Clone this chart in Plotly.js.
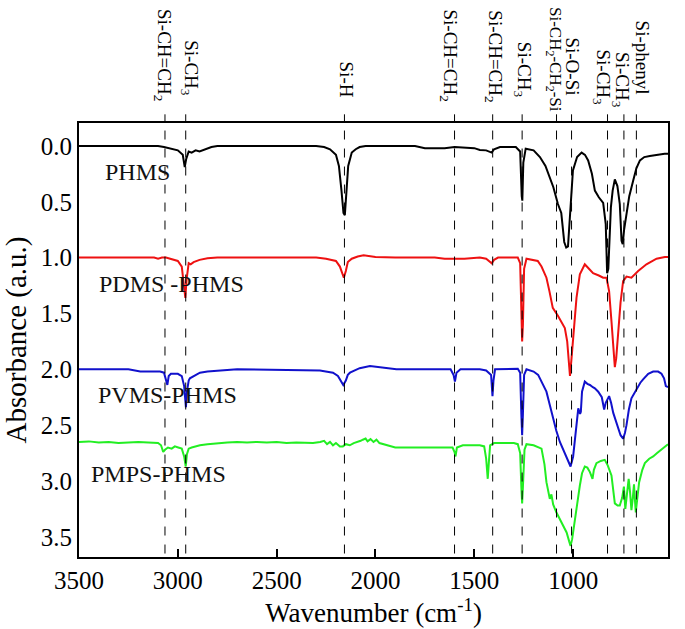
<!DOCTYPE html>
<html>
<head>
<meta charset="utf-8">
<script src="https://cdn.plot.ly/plotly-3.0.1.min.js"></script>
<style>html,body{margin:0;padding:0;background:#fff;}#chart{width:685px;height:629px;}</style>
</head>
<body>
<div id="chart"></div>
<script>
// ---- data ----
const phmsX = [3500,3100,3070,3040,3000,2975,2965,2958,2945,2930,2910,2890,2860,2830,2800,2300,2260,2230,2200,2185,2172,2162,2155,2148,2138,2120,2100,2080,2050,1800,1750,1650,1600,1500,1472,1440,1412,1400,1370,1290,1268,1260,1257,1252,1240,1200,1168,1140,1118,1100,1077,1060,1045,1035,1026,1016,1001,980,957,940,924,905,890,870,848,835,828,822,815,809,800,789,776,764,755,749,742,736,716,696,680,662,640,612,570,537,520];
const phmsY = [0,0,0.01,0.02,0.04,0.08,0.19,0.12,0.05,0.06,0.04,0.05,0.03,0.01,0,0,0.01,0.03,0.08,0.18,0.40,0.60,0.62,0.45,0.18,0.06,0.03,0.01,0,0,0.02,0.02,0.01,0.02,0.036,0.04,0.06,0.03,0.01,0.01,0.05,0.45,0.49,0.15,0.025,0.04,0.10,0.18,0.28,0.37,0.52,0.60,0.86,0.91,0.90,0.64,0.22,0.10,0.06,0.08,0.13,0.25,0.40,0.46,0.51,0.70,1.14,1.10,0.70,0.55,0.40,0.30,0.36,0.52,0.85,0.88,0.75,0.67,0.45,0.31,0.20,0.13,0.10,0.09,0.075,0.07,0.07];

const pdmsX = [3500,3120,3100,3080,3060,3040,3000,2980,2968,2962,2956,2945,2935,2920,2890,2850,2800,2300,2250,2200,2180,2168,2160,2150,2140,2120,2090,2060,2030,2000,1900,1700,1650,1550,1472,1440,1412,1400,1380,1280,1268,1262,1258,1254,1248,1236,1179,1160,1135,1120,1103,1077,1060,1042,1030,1022,1016,1008,995,983,966,941,920,899,870,848,831,818,806,795,789,782,772,760,747,730,705,671,629,578,536,520];
const pdmsY = [1,1,1.01,1,1,1.01,1.03,1.08,1.28,1.36,1.20,1.05,1.06,1.04,1.02,1.005,1,1,1.01,1.03,1.08,1.15,1.18,1.12,1.04,1.01,0.99,0.98,0.985,0.995,1,1,1.01,1.01,1,1.01,1.05,1.02,1,1,1.05,1.5,1.75,1.6,1.1,1.01,1.03,1.08,1.18,1.30,1.45,1.52,1.58,1.63,1.75,1.95,2.06,1.9,1.6,1.36,1.15,1.06,1.10,1.14,1.16,1.18,1.18,1.30,1.57,1.90,1.98,1.9,1.66,1.40,1.21,1.17,1.18,1.12,1.06,1.01,0.995,0.995];

const pvmsX = [3500,3250,3190,3090,3070,3060,3053,3046,3035,3000,2980,2968,2962,2959,2954,2945,2939,2920,2888,2850,2787,2700,2281,2215,2190,2175,2163,2150,2140,2129,2080,2028,1960,1894,1700,1620,1605,1598,1590,1570,1472,1440,1415,1408,1403,1395,1280,1268,1262,1258,1254,1248,1236,1200,1177,1160,1135,1118,1101,1085,1067,1050,1030,1013,1000,991,980,974,965,961,955,941,928,915,900,890,873,855,843,835,818,808,797,785,772,760,747,738,730,718,705,680,660,646,620,595,570,553,540,531,520];
const pvmsY = [2,2,2.02,2.02,2.03,2.10,2.14,2.06,2.04,2.04,2.06,2.15,2.30,2.34,2.20,2.10,2.08,2.06,2.03,2.02,2.01,2,2.01,2.03,2.06,2.10,2.14,2.10,2.05,2.03,1.99,1.97,1.985,2,2,2,2.05,2.11,2.03,2,2,2.01,2.05,2.24,2.10,2,1.995,2.03,2.40,2.59,2.40,2.05,2,2.02,2.05,2.11,2.20,2.32,2.44,2.55,2.65,2.72,2.81,2.87,2.78,2.62,2.45,2.35,2.40,2.38,2.20,2.11,2.13,2.14,2.16,2.17,2.20,2.25,2.36,2.30,2.24,2.30,2.39,2.45,2.53,2.59,2.62,2.57,2.50,2.36,2.26,2.18,2.12,2.09,2.04,2.02,2.02,2.04,2.08,2.15,2.16];

const pmpsX = [3500,3450,3400,3350,3300,3250,3200,3150,3100,3085,3074,3065,3050,3031,3015,2998,2980,2968,2960,2954,2945,2930,2910,2888,2850,2800,2750,2700,2650,2600,2550,2500,2450,2400,2350,2316,2280,2260,2245,2230,2215,2200,2180,2165,2150,2130,2110,2090,2075,2064,2050,2040,2025,2010,1995,1980,1960,1940,1927,1900,1876,1800,1700,1638,1610,1600,1595,1588,1558,1472,1450,1440,1432,1427,1420,1400,1300,1280,1268,1262,1258,1254,1246,1236,1200,1160,1145,1135,1125,1118,1110,1101,1085,1067,1050,1033,1020,1013,1005,991,978,966,955,941,928,915,902,895,882,860,840,825,806,795,789,775,764,752,743,736,728,719,712,705,698,692,688,683,675,666,650,637,615,595,575,553,528,520];
const pmpsY = [2.65,2.645,2.655,2.65,2.66,2.655,2.65,2.655,2.66,2.68,2.74,2.72,2.70,2.71,2.69,2.70,2.71,2.78,2.87,2.76,2.71,2.70,2.69,2.68,2.67,2.66,2.655,2.65,2.655,2.65,2.655,2.65,2.66,2.655,2.66,2.66,2.65,2.64,2.67,2.65,2.68,2.66,2.69,2.69,2.67,2.68,2.66,2.65,2.64,2.63,2.62,2.645,2.625,2.65,2.63,2.66,2.67,2.68,2.69,2.70,2.70,2.70,2.70,2.70,2.70,2.74,2.78,2.70,2.68,2.68,2.69,2.80,2.98,2.85,2.68,2.66,2.66,2.67,2.75,3.05,3.20,3.05,2.72,2.67,2.68,2.71,2.85,3.01,3.10,3.16,3.12,3.21,3.28,3.34,3.40,3.46,3.54,3.58,3.52,3.34,3.18,3.04,2.93,2.87,2.88,2.92,2.98,2.90,2.84,2.82,2.81,2.86,2.95,3.10,3.20,3.22,3.22,3.15,3.05,3.25,3.10,2.98,3.10,3.26,3.15,3.03,3.15,3.28,3.15,3.01,2.90,2.84,2.80,2.78,2.75,2.72,2.68,2.67];

const sampleNames = ["PHMS", "PDMS -PHMS", "PVMS-PHMS", "PMPS-PHMS"];
const sampleLabelX = [3380, 3410, 3415, 3450];
const sampleLabelY = [0.23, 1.24, 2.23, 2.94];

const bandPositions = [3065, 2960, 2157, 1600, 1407, 1258, 1084, 1008, 826, 743, 680];
const bandLabels = ["Si-CH=CH<sub>2</sub>", "Si-CH<sub>3</sub>", "Si-H", "Si-CH=CH<sub>2</sub>", "Si-CH=CH<sub>2</sub>", "Si-CH<sub>3</sub>", "Si-CH<sub>2</sub>-CH<sub>2</sub>-Si", "Si-O-Si", "Si-CH<sub>3</sub>", "Si-CH<sub>3</sub>", "Si-phenyl"];

const xTicks = [3500, 3000, 2500, 2000, 1500, 1000];
const yTicks = [0, 0.5, 1, 1.5, 2, 2.5, 3, 3.5];

// ---- drawing ----
const FONT = "Liberation Serif";
const lineStyle = (c) => ({color: c, width: 2});
const traces = [
  {x: phmsX, y: phmsY, mode: "lines", line: lineStyle("#000000"), name: sampleNames[0]},
  {x: pdmsX, y: pdmsY, mode: "lines", line: lineStyle("#ee1111"), name: sampleNames[1]},
  {x: pvmsX, y: pvmsY, mode: "lines", line: lineStyle("#1111cc"), name: sampleNames[2]},
  {x: pmpsX, y: pmpsY, mode: "lines", line: lineStyle("#22ee22"), name: sampleNames[3]}
];

const labelShift = [-2, 4, 2, -6, 1, 1, -3, 0, -6, -3, 6];
const labelBottom = [103, 98, 100, 103, 104, 100, 114, 97, 107, 110, 97];
const labelSize = [19, 19, 19, 19, 19, 19, 17, 19, 19, 19, 19];

const shapes = bandPositions.map(w => ({
  type: "line", xref: "x", yref: "paper", x0: w, x1: w, y0: 0.008, y1: 1.02,
  line: {color: "#000", width: 1, dash: "dash"}
}));

const annotations = [];
bandPositions.forEach((w, i) => {
  annotations.push({
    x: w, xref: "x", y: (557 - labelBottom[i]) / 434, yref: "paper",
    text: bandLabels[i], textangle: 90, showarrow: false,
    xanchor: "center", yanchor: "bottom", xshift: labelShift[i],
    font: {family: FONT, size: labelSize[i], color: "#000"}
  });
});
sampleNames.forEach((n, i) => {
  annotations.push({
    x: sampleLabelX[i], y: sampleLabelY[i], xref: "x", yref: "y",
    text: n, showarrow: false, xanchor: "left", yanchor: "middle",
    font: {family: FONT, size: 24, color: "#111"}
  });
});

const layout = {
  width: 685, height: 629,
  margin: {l: 79, r: 17, t: 123, b: 72},
  paper_bgcolor: "#fff", plot_bgcolor: "#fff",
  showlegend: false,
  font: {family: FONT, color: "#000", size: 24},
  xaxis: {
    range: [3500, 520], tickvals: xTicks, ticktext: xTicks.map(String),
    ticks: "inside", ticklen: 8, tickwidth: 2, tickcolor: "#000",
    showline: true, mirror: true, linewidth: 2, linecolor: "#000",
    showgrid: false, zeroline: false,
    tickfont: {family: "Liberation Serif", size: 25, color: "#000"},
    title: {text: "Wavenumber (cm<sup>-1</sup>)", font: {family: "Liberation Serif", size: 27, color: "#000"}, standoff: 2}
  },
  yaxis: {
    range: [3.68, -0.205], tickvals: yTicks, ticktext: yTicks.map(v => v.toFixed(1)),
    ticks: "", showline: true, mirror: true, linewidth: 2, linecolor: "#000",
    showgrid: false, zeroline: false,
    tickfont: {family: "Times New Roman", size: 25, color: "#000"},
    title: {text: "Absorbance (a.u.)", font: {family: "Times New Roman", size: 29, color: "#000"}, standoff: 6}
  },
  shapes: shapes,
  annotations: annotations
};

Plotly.newPlot("chart", traces, layout, {displayModeBar: false, staticPlot: true});
</script>
</body>
</html>
